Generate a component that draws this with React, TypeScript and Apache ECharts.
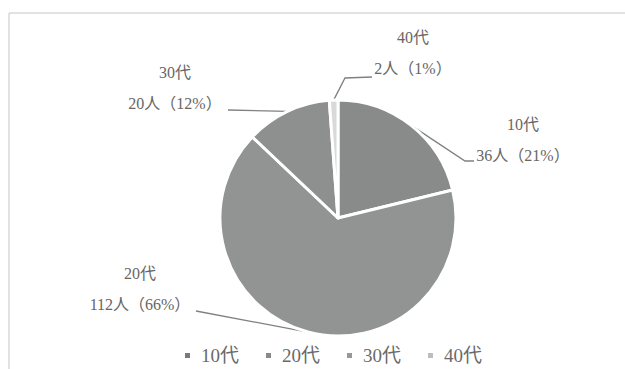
import React, { useEffect, useRef } from "react";
import * as echarts from "echarts";

// Age groups and respondent counts
const categories = ["10代", "20代", "30代", "40代"];
const counts = [36, 112, 20, 2];
const sliceColors = ["#898b8a", "#929493", "#8e908f", "#d9d9d9"];
const legendColors = ["#7a7a7a", "#8a8a8a", "#979797", "#bdbdbd"];

// Where each two-line label sits, and the bend/end of its leader line
const labelCenters = [
  [523, 140],
  [140, 289],
  [175, 88],
  [413, 53],
];
const leaderBends = [
  [[465, 161], [474, 161]],
  [[196, 311], [196, 311]],
  [[228, 110], [228, 110]],
  [[345, 78], [372, 77]],
];

const FONT = "'Liberation Serif', 'Noto Sans CJK JP', serif";

export default function App() {
  const ref = useRef<HTMLDivElement>(null);

  useEffect(() => {
    if (!ref.current) return;
    const chart = echarts.init(ref.current, null, { renderer: "svg" });
    const total = counts.reduce((a, b) => a + b, 0);

    chart.setOption({
      animation: false,
      backgroundColor: "#ffffff",
      graphic: [
        {
          type: "line",
          shape: { x1: 9, y1: 13, x2: 625, y2: 13 },
          style: { stroke: "#d9d9d9", lineWidth: 1.5 },
        },
        {
          type: "line",
          shape: { x1: 9, y1: 13, x2: 9, y2: 369 },
          style: { stroke: "#d9d9d9", lineWidth: 1.5 },
        },
      ],
      legend: {
        data: categories.map((name, i) => ({
          name,
          itemStyle: { color: legendColors[i] },
        })),
        left: 178,
        top: 341,
        icon: "rect",
        itemWidth: 7,
        itemHeight: 7,
        itemGap: 25,
        textStyle: {
          fontFamily: FONT,
          fontSize: 19,
          color: "#6a6a6a",
          padding: [0, 0, 0, 5],
        },
      },
      series: [
        {
          type: "pie",
          center: [338, 218],
          radius: 118,
          startAngle: 90,
          clockwise: true,
          data: categories.map((name, i) => ({
            name,
            value: counts[i],
            itemStyle: { color: sliceColors[i] },
          })),
          itemStyle: { borderColor: "#ffffff", borderWidth: 3 },
          label: {
            show: true,
            position: "outside",
            fontFamily: FONT,
            fontSize: 16,
            lineHeight: 31,
            color: "#666666",
            align: "center",
            formatter: (p: any) =>
              `${p.name}\n${p.value}人（${Math.round((p.value / total) * 100)}%）`,
          },
          labelLine: {
            show: true,
            lineStyle: { color: "#808080", width: 1.3 },
          },
          labelLayout: (params: any) => {
            const i = params.dataIndex;
            const anchor = params.labelLinePoints
              ? params.labelLinePoints[0]
              : [0, 0];
            return {
              x: labelCenters[i][0],
              y: labelCenters[i][1],
              align: "center",
              verticalAlign: "middle",
              labelLinePoints: [anchor, leaderBends[i][0], leaderBends[i][1]],
            };
          },
        },
      ],
    });

    return () => chart.dispose();
  }, []);

  return (
    <div
      ref={ref}
      style={{ position: "fixed", left: 0, top: 0, width: 625, height: 369 }}
    />
  );
}
